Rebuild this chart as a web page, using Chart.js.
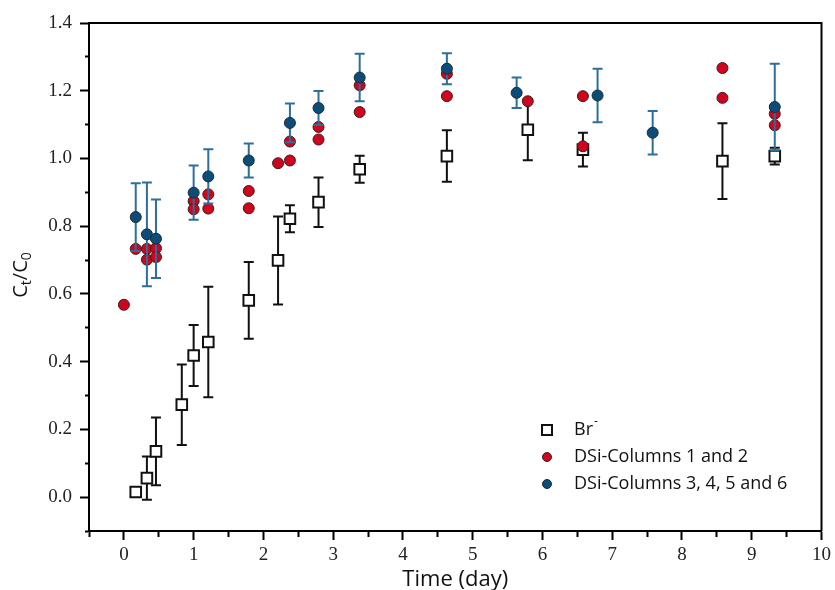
<!DOCTYPE html>
<html>
<head>
<meta charset="utf-8">
<script src="https://cdn.jsdelivr.net/npm/chart.js@4.4.0/dist/chart.umd.min.js"></script>
<style>
  html, body { margin: 0; padding: 0; background: #fff; }
</style>
</head>
<body>
<canvas id="ratio-chart" width="835" height="590"></canvas>
<script>
// Br- tracer
const brTime  = [0.17, 0.33, 0.46, 0.83, 1.0, 1.21, 1.79, 2.21, 2.38, 2.79, 3.38, 4.63, 5.79, 6.58, 8.58, 9.33];
const brRatio = [0.015, 0.056, 0.135, 0.273, 0.418, 0.458, 0.581, 0.699, 0.822, 0.871, 0.968, 1.007, 1.085, 1.026, 0.992, 1.007];
const brError = [0.012, 0.064, 0.10, 0.119, 0.09, 0.163, 0.113, 0.13, 0.04, 0.073, 0.04, 0.076, 0.09, 0.05, 0.112, 0.025];

// DSi, columns 1 and 2 (no error bars)
const dsi12Time  = [0, 0.17, 0.33, 0.33, 0.46, 0.46, 1.0, 1.0, 1.21, 1.21, 1.79, 1.79, 2.21, 2.38, 2.38, 2.79, 2.79, 3.38, 3.38, 4.63, 4.63, 5.79, 6.58, 6.58, 8.58, 8.58, 9.33, 9.33];
const dsi12Ratio = [0.568, 0.733, 0.733, 0.701, 0.735, 0.709, 0.874, 0.85, 0.894, 0.852, 0.904, 0.853, 0.986, 1.05, 0.994, 1.093, 1.056, 1.216, 1.137, 1.25, 1.184, 1.169, 1.184, 1.036, 1.267, 1.179, 1.132, 1.098];

// DSi, columns 3, 4, 5 and 6
const dsi3456Time  = [0.17, 0.33, 0.46, 1.0, 1.21, 1.79, 2.38, 2.79, 3.38, 4.63, 5.63, 6.79, 7.58, 9.33];
const dsi3456Ratio = [0.827, 0.776, 0.763, 0.899, 0.947, 0.994, 1.105, 1.149, 1.239, 1.265, 1.194, 1.186, 1.076, 1.152];
const dsi3456Error = [0.10, 0.153, 0.116, 0.08, 0.08, 0.05, 0.057, 0.05, 0.07, 0.046, 0.045, 0.079, 0.064, 0.128];

const seriesNames = ["Br", "DSi-Columns 1 and 2", "DSi-Columns 3, 4, 5 and 6"];

const toPoints = (xs, ys) => xs.map((x, i) => ({ x: x, y: ys[i] }));
const near = (v, step) => Math.abs(v / step - Math.round(v / step)) < 1e-6;

// error bars are drawn just before the points of their own dataset
const errorBars = {
  id: "errorBars",
  beforeDatasetDraw(chart, args) {
    const ds = chart.data.datasets[args.index];
    if (!ds.errors) return;
    const xs = chart.scales.x;
    const ys = chart.scales.y;
    const ctx = chart.ctx;
    ctx.save();
    ctx.strokeStyle = ds.errorColor;
    ctx.lineWidth = 2;
    ds.data.forEach((p, i) => {
      const e = ds.errors[i];
      const px = xs.getPixelForValue(p.x);
      const top = ys.getPixelForValue(p.y + e);
      const bot = ys.getPixelForValue(p.y - e);
      ctx.beginPath();
      ctx.moveTo(px, top);
      ctx.lineTo(px, bot);
      ctx.moveTo(px - 5, top);
      ctx.lineTo(px + 5, top);
      ctx.moveTo(px - 5, bot);
      ctx.lineTo(px + 5, bot);
      ctx.stroke();
    });
    ctx.restore();
  },
};

// frame, y title with subscripts and the inset legend
const decorations = {
  id: "decorations",
  afterDraw(chart) {
    const ctx = chart.ctx;
    const ca = chart.chartArea;

    ctx.save();
    ctx.strokeStyle = "#000";
    ctx.lineWidth = 2;
    ctx.beginPath();
    ctx.moveTo(ca.left, ca.top);
    ctx.lineTo(ca.right, ca.top);
    ctx.lineTo(ca.right, ca.bottom);
    ctx.stroke();
    ctx.restore();

    // y title: C_t/C_0
    const big = '20px "Open Sans"';
    const small = '14px "Open Sans"';
    const parts = [
      { t: "C", f: big, dy: 0 },
      { t: "t", f: small, dy: 4 },
      { t: "/C", f: big, dy: 0 },
      { t: "0", f: small, dy: 4 },
    ];
    ctx.save();
    let total = 0;
    parts.forEach((p) => {
      ctx.font = p.f;
      p.w = ctx.measureText(p.t).width;
      total += p.w;
    });
    ctx.translate(27, 275);
    ctx.rotate(-Math.PI / 2);
    ctx.fillStyle = "#111";
    ctx.textBaseline = "alphabetic";
    let cx = -total / 2;
    parts.forEach((p) => {
      ctx.font = p.f;
      ctx.fillText(p.t, cx, p.dy);
      cx += p.w;
    });
    ctx.restore();

    // legend
    const mx = ca.left + 458;
    const tx = ca.left + 485;
    const rows = [ca.bottom - 101, ca.bottom - 74, ca.bottom - 47];
    const sets = chart.data.datasets;
    ctx.save();
    ctx.font = '18px "Open Sans"';
    ctx.textBaseline = "middle";
    ctx.fillStyle = "#111";
    rows.forEach((ry, i) => {
      const ds = sets[i];
      ctx.beginPath();
      if (ds.pointStyle === "rect") {
        ctx.rect(mx - 5, ry - 5, 10, 10);
        ctx.fillStyle = ds.backgroundColor;
        ctx.fill();
        ctx.lineWidth = 2;
      } else {
        ctx.arc(mx, ry, 4.5, 0, Math.PI * 2);
        ctx.fillStyle = ds.backgroundColor;
        ctx.fill();
        ctx.lineWidth = 1;
      }
      ctx.strokeStyle = ds.borderColor;
      ctx.stroke();
      ctx.fillStyle = "#111";
      ctx.fillText(ds.label, tx, ry);
      if (i === 0) {
        const w = ctx.measureText(ds.label).width;
        ctx.font = '12px "Open Sans"';
        ctx.fillText("-", tx + w + 1, ry - 8);
        ctx.font = '18px "Open Sans"';
      }
    });
    ctx.restore();
  },
};

const tickFont = { family: "Liberation Serif", size: 19 };

new Chart(document.getElementById("ratio-chart"), {
  type: "scatter",
  data: {
    datasets: [
      {
        label: seriesNames[0],
        data: toPoints(brTime, brRatio),
        errors: brError,
        errorColor: "#111",
        pointStyle: "rect",
        pointRadius: 7.5,
        pointHoverRadius: 7.5,
        backgroundColor: "#ffffff",
        borderColor: "#111",
        borderWidth: 2,
        order: 3,
      },
      {
        label: seriesNames[1],
        data: toPoints(dsi12Time, dsi12Ratio),
        pointStyle: "circle",
        pointRadius: 5.5,
        pointHoverRadius: 5.5,
        backgroundColor: "#d0041c",
        borderColor: "#3a2020",
        borderWidth: 1,
        order: 2,
      },
      {
        label: seriesNames[2],
        data: toPoints(dsi3456Time, dsi3456Ratio),
        errors: dsi3456Error,
        errorColor: "#2d6e9b",
        pointStyle: "circle",
        pointRadius: 5.5,
        pointHoverRadius: 5.5,
        backgroundColor: "#0b4d78",
        borderColor: "#1d2a33",
        borderWidth: 1,
        order: 1,
      },
    ],
  },
  options: {
    responsive: false,
    animation: false,
    layout: { padding: { top: 23, right: 10, left: 0, bottom: 0 } },
    plugins: {
      legend: { display: false },
      tooltip: { enabled: false },
    },
    scales: {
      x: {
        type: "linear",
        min: -0.5,
        max: 10,
        afterFit: (s) => { s.height = 59; },
        border: { color: "#000", width: 2 },
        grid: {
          drawOnChartArea: false,
          drawTicks: true,
          tickLength: 9,
          tickWidth: 2,
          tickColor: "#000",
          tickBorderDash: (c) => (c.tick && near(c.tick.value, 1) ? [] : [5, 20]),
        },
        ticks: {
          stepSize: 0.5,
          autoSkip: false,
          maxRotation: 0,
          padding: 4,
          color: "#222",
          font: tickFont,
          callback: (v) => (near(v, 1) ? String(Math.round(v)) : ""),
        },
        title: {
          display: true,
          text: "Time (day)",
          color: "#111",
          font: { family: "Open Sans", size: 22 },
          padding: { top: 0, bottom: -3 },
        },
      },
      y: {
        type: "linear",
        min: -0.1,
        max: 1.4,
        afterFit: (s) => { s.width = 89; },
        border: { color: "#000", width: 2 },
        grid: {
          drawOnChartArea: false,
          drawTicks: true,
          tickLength: 9,
          tickWidth: 2,
          tickColor: "#000",
          tickBorderDash: (c) => (c.tick && near(c.tick.value, 0.2) ? [] : [4, 5]),
          tickBorderDashOffset: (c) => (c.tick && near(c.tick.value, 0.2) ? 0 : 4),
        },
        ticks: {
          stepSize: 0.1,
          autoSkip: false,
          padding: 8,
          color: "#222",
          font: tickFont,
          callback: (v) => (near(v, 0.2) && v > -0.05 ? v.toFixed(1) : ""),
        },
      },
    },
  },
  plugins: [errorBars, decorations],
});
</script>
</body>
</html>
